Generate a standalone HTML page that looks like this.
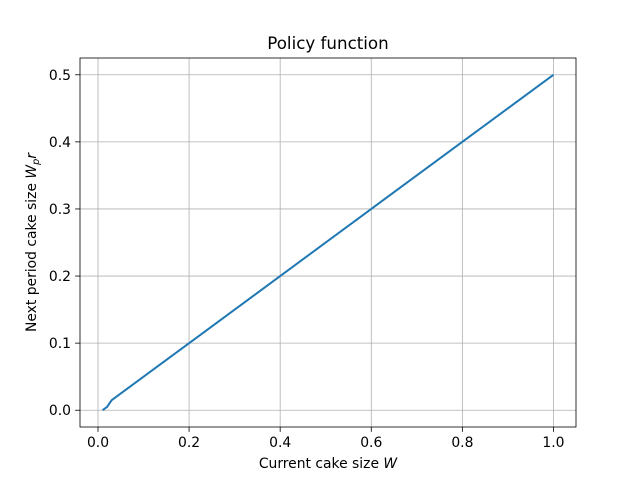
<!DOCTYPE html>
<html><head><meta charset="utf-8"><style>
body{margin:0;background:#fff;}
svg{display:block;font-family:"DejaVu Sans","Liberation Sans",sans-serif;}
</style></head><body>
<svg id="chart" width="640" height="480">
<rect width="640" height="480" fill="#fff"/>
</svg>
<script>
const xValues = [0.01, 0.02, 0.03, 0.1, 0.2, 0.4, 0.6, 0.8, 1.0];
const yValues = [0.0, 0.005, 0.015, 0.05, 0.1, 0.2, 0.3, 0.4, 0.5];
const xTicks = [0.0, 0.2, 0.4, 0.6, 0.8, 1.0];
const yTicks = [0.0, 0.1, 0.2, 0.3, 0.4, 0.5];
const xTickLabels = ["0.0","0.2","0.4","0.6","0.8","1.0"];
const yTickLabels = ["0.0","0.1","0.2","0.3","0.4","0.5"];

const L=80,R=576,T=58,B=427;
const xmin=-0.0395,xmax=1.0495,ymin=-0.025,ymax=0.525;
const sx=v=>L+(v-xmin)/(xmax-xmin)*(R-L);
const sy=v=>B-(v-ymin)/(ymax-ymin)*(B-T);
const svg=document.getElementById('chart');
const NS='http://www.w3.org/2000/svg';
function mk(tag,attrs,parent){const e=document.createElementNS(NS,tag);for(const k in attrs)e.setAttribute(k,attrs[k]);(parent||svg).appendChild(e);return e;}

const grid=mk('g',{});


xTicks.forEach((t,i)=>{
  const x=sx(t);
  const gl=mk('line',{x1:x,x2:x,y1:T,y2:B,stroke:'#b0b0b0','stroke-width':0.8},grid);
  
  
  const tk=mk('line',{x1:x,x2:x,y1:B,y2:B+4.9,stroke:'#000','stroke-width':0.8});
  
  
  const tl=mk('text',{x:x,y:B+20,'font-size':13.9,'text-anchor':'middle'});
  tl.textContent=xTickLabels[i];
  
  
});
yTicks.forEach((t,i)=>{
  const y=sy(t);
  const gl=mk('line',{x1:L,x2:R,y1:y,y2:y,stroke:'#b0b0b0','stroke-width':0.8},grid);
  
  
  const tk=mk('line',{x1:L-4.9,x2:L,y1:y,y2:y,stroke:'#000','stroke-width':0.8});
  
  
  const tl=mk('text',{x:L-9,y:y+5,'font-size':13.9,'text-anchor':'end'});
  tl.textContent=yTickLabels[i];
  
  
});

const line=mk('polyline',{points:xValues.map((v,i)=>sx(v)+','+sy(yValues[i])).join(' '),fill:'none',stroke:'#1f77b4','stroke-width':2});



const frame=mk('rect',{x:L,y:T,width:R-L,height:B-T,fill:'none',stroke:'#000','stroke-width':0.8});



const title=mk('text',{x:(L+R)/2,y:49,'font-size':16.7,'text-anchor':'middle'});
title.textContent='Policy function';



const xl=mk('text',{x:(L+R)/2,y:468,'font-size':13.9,'text-anchor':'middle'});
xl.innerHTML='Current cake size <tspan font-style="italic">W</tspan>';



const yl=mk('text',{x:0,y:0,'font-size':13.9,'text-anchor':'middle',transform:'translate(36,'+((T+B)/2)+') rotate(-90)'});
yl.innerHTML='Next period cake size <tspan font-style="italic">W</tspan><tspan font-style="italic" font-size="9.7" dy="3">p</tspan><tspan font-style="italic" dy="-3">r</tspan>';


</script>
</body></html>
